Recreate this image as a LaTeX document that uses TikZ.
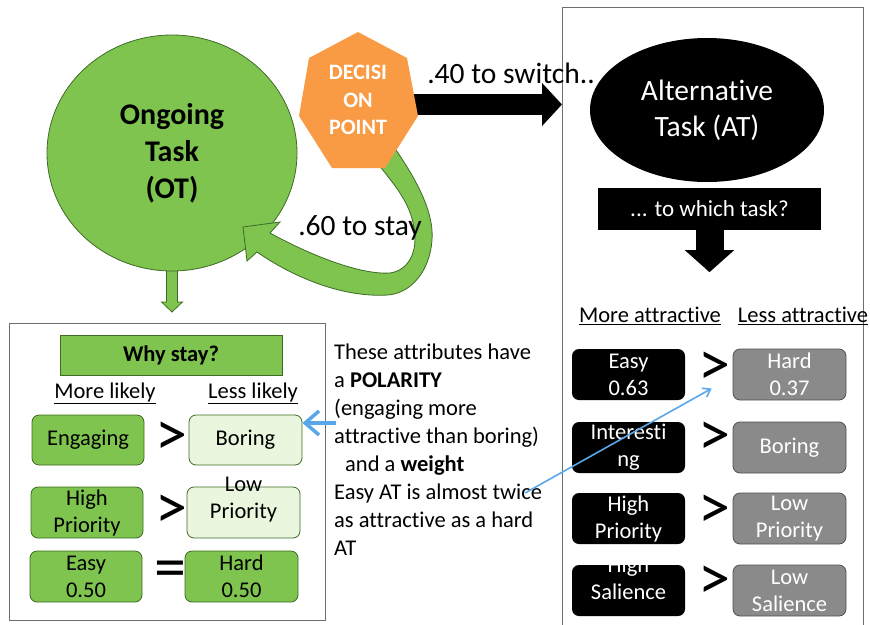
\documentclass[tikz,border=0pt]{standalone}
\usepackage{fontspec}
\setmainfont{Carlito}[Ligatures=NoCommon]
\usetikzlibrary{arrows.meta,shapes.geometric}
\definecolor{gfill}{HTML}{7EC44F}
\definecolor{gdark}{HTML}{3E6B25}
\definecolor{glight}{HTML}{EBF6DE}
\definecolor{orng}{HTML}{F99B45}
\definecolor{greyf}{HTML}{8A8A8A}
\definecolor{greyd}{HTML}{505050}
\definecolor{bluea}{HTML}{5AA6EA}
\definecolor{frame}{HTML}{6E6E6E}
\newcommand{\myfs}[2]{\fontsize{#1}{#2}\selectfont}
\begin{document}
\begin{tikzpicture}[x=1pt,y=-1pt,
  gbox/.style={draw=gdark, fill=gfill, rounded corners=7pt, minimum width=112pt, minimum height=50pt, line width=0.8pt, inner sep=0pt, font=\myfs{22.5}{27}, align=center},
  lbox/.style={gbox, fill=glight},
  bbox/.style={fill=black, rounded corners=7pt, minimum width=113pt, minimum height=51pt, inner sep=0pt, text=white, font=\myfs{22.5}{27}, align=center},
  ybox/.style={bbox, draw=greyd, line width=0.8pt, fill=greyf},
  cmp/.style={font=\myfs{64}{64}, inner sep=0pt},
  hdr/.style={font=\myfs{22.5}{27}, inner sep=0pt},
  blk/.style={line width=21pt, -{Triangle[length=20pt,width=42pt]}},
  gline/.style={draw=gdark, line width=0.8pt, fill=gfill}
]
\useasboundingbox (0,0) rectangle (870,624);

% right frame and left frame
\node[draw=frame, line width=0.9pt, minimum width=301pt, minimum height=630pt, anchor=north west, inner sep=0pt] (rbox) at (562,7) {};
\node[draw=frame, line width=1.2pt, minimum width=316pt, minimum height=297pt, anchor=north west, inner sep=0pt] (lbox) at (9,323) {};

% small green arrow below OT (drawn under the circle)
\coordinate (otb) at (172,264);
\draw[gline] ([xshift=-5.5pt]otb) -- ++(0,38) -- ++(-5,0) -- ++(10.5,10) -- ++(10.5,-10) -- ++(-5,0) -- ++(0,-38) -- cycle;

% ongoing task circle
\node[ellipse, gline, minimum width=250pt, minimum height=236pt, inner sep=0pt, font=\bfseries\myfs{30}{37}, align=center] (ot) at (172,153) {Ongoing\\Task\\(OT)};

% black switch arrow
\coordinate (sw1) at (405,104.5);
\coordinate (sw2) at (562,104.5);
\draw[blk] (sw1) -- (sw2);

% green curved stay arrow
\path[gline] (375,160) .. controls (390,180) and (410,200) .. (414,228)
  .. controls (418,250) and (410,270) .. (390,273)
  .. controls (360,275) and (310,255) .. (270,233)
  -- (280,222) -- (243,227) -- (247,261) -- (257,252)
  .. controls (290,275) and (340,298) .. (388,295)
  .. controls (412,293) and (430,270) .. (432,240)
  .. controls (434,215) and (420,185) .. (396,150) -- cycle;

% decision point heptagon
\fill[orng] (358,32) -- (407,58) -- (418,116) -- (385,168) -- (332,168) -- (299,116) -- (309,58) -- cycle;
\node[text=white, font=\bfseries\myfs{22}{27.5}, align=center, inner sep=0pt] (dp) at (358,100) {DECISI\\ON\\POINT};

\node[font=\myfs{29.5}{34}, inner sep=0pt] (l40) at (511,73) {.40 to switch..};
\node[font=\myfs{29.5}{34}, inner sep=0pt] (l60) at (360,228) {.60 to stay};

% alternative task
\node[ellipse, fill=black, minimum width=234pt, minimum height=144pt, inner sep=0pt, text=white, font=\myfs{29.5}{36}, align=center] (at) at (707,110) {Alternative\\Task (AT)};
\node[fill=black, minimum width=223pt, minimum height=42pt, inner sep=0pt, text=white, font=\myfs{23}{28}] (tw) at (709.5,209) {... to which task?};
\draw[line width=28pt, -{Triangle[length=22pt,width=48pt]}] (tw.south) -- ++(0,42);

% right headers
\node[hdr] (ma) at (650,316) {\underline{More attractive}};
\node[hdr] (la) at (803,316) {\underline{Less attractive}};

% right boxes
\node[bbox] (rm1) at (628.5,374.5) {Easy\\0.63};
\node[bbox] (rm2) at (628.5,447.5) {Interesti\\ng};
\node[bbox] (rm3) at (628.5,518.5) {High\\Priority};
\node[bbox] (rm4) at (628.5,590.5) {};
\node[text=white, font=\myfs{22.5}{27}, align=center, inner sep=0pt] (rm4t) at ([yshift=12pt]rm4.center) {High\\Salience};
\node[ybox] (rl1) at (789.5,374.5) {Hard\\0.37};
\node[ybox] (rl2) at (789.5,447.5) {Boring};
\node[ybox] (rl3) at (789.5,518.5) {Low\\Priority};
\node[ybox] (rl4) at (789.5,590.5) {Low\\Salience};
\node[cmp] (rc1) at (714,369) {>};
\node[cmp] (rc2) at (714,439) {>};
\node[cmp] (rc3) at (714,512) {>};
\node[cmp] (rc4) at (714,583) {>};

% left panel
\node[gline, minimum width=222pt, minimum height=40pt, inner sep=0pt, font=\bfseries\myfs{22.5}{27}] (why) at (171,355) {Why stay?};
\node[hdr] (ml) at (105,393) {\underline{More likely}};
\node[hdr] (ll) at (253,393) {\underline{Less likely}};
\node[gbox] (lm1) at (88,440) {Engaging};
\node[lbox, minimum width=113pt] (ll1) at (245.5,440) {Boring};
\node[gbox, minimum height=51pt] (lm2) at (87,512.5) {High\\Priority};
\node[lbox, minimum width=113pt, minimum height=51pt] (ll2) at (243.5,512.5) {};
\node[font=\myfs{22.5}{27}, align=center, inner sep=0pt] (ll2t) at ([yshift=13pt]ll2.center) {Low\\Priority};
\node[gbox, minimum height=51pt] (lm3) at (86,576.5) {Easy\\0.50};
\node[gbox, minimum width=113pt, minimum height=51pt] (ll3) at (241.5,576.5) {Hard\\0.50};
\node[cmp] (lc1) at (171,439) {>};
\node[cmp] (lc2) at (171,512) {>};
\node[cmp] (lc3) at (170,575) {=};

% note text
\node[anchor=north west, align=left, inner sep=0pt, font=\myfs{22.5}{28}] (note) at (334,344) {These attributes have\\a \textbf{POLARITY}\\(engaging more\\attractive than boring)\\\hspace{11pt}and a \textbf{weight}\\Easy AT is almost twice\\as attractive as a hard\\AT};

% blue arrows
\coordinate (b1s) at (336,423);
\draw[bluea, line width=3.5pt, -{Straight Barb[length=14pt,width=24pt]}] (b1s) -- ([yshift=17pt]ll1.east);
\coordinate (b2s) at (525,493);
\draw[bluea, line width=1.6pt, -{Straight Barb[length=7pt,width=10pt]}] (b2s) -- ([shift={(-21pt,-14pt)}]rl1.west);
\end{tikzpicture}
\end{document}
